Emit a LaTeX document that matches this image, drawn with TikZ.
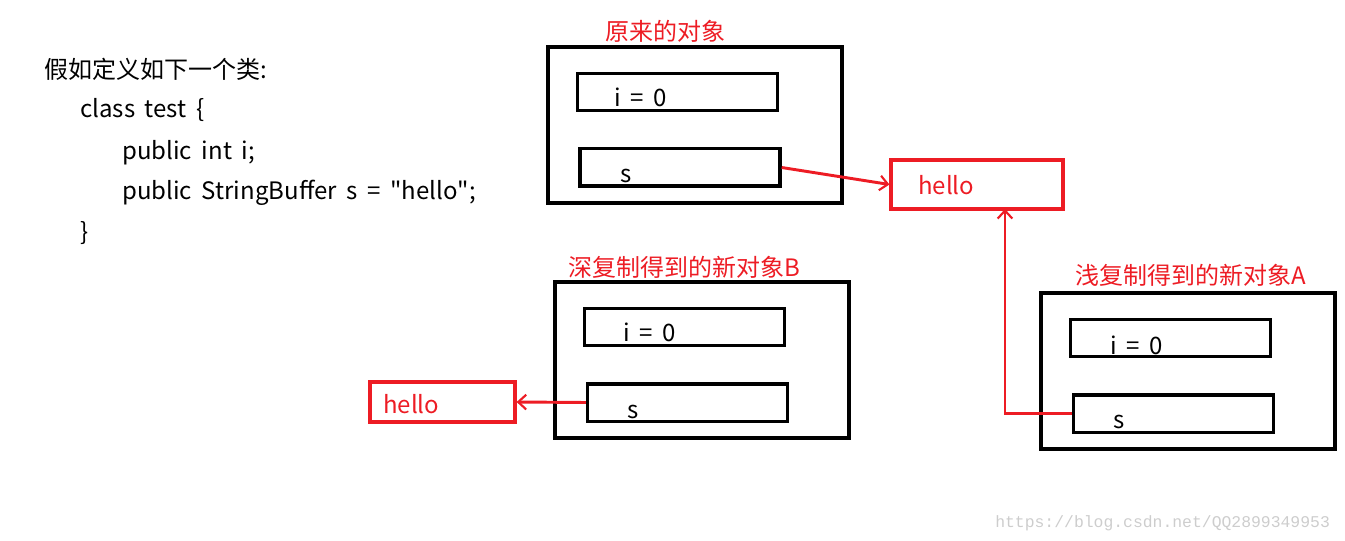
\documentclass[tikz,border=0pt]{standalone}
\usepackage{fontspec}
\setmainfont{Noto Sans CJK SC}[WordSpace=1.8]
\newfontfamily\wmfont{Liberation Mono}
\usetikzlibrary{arrows.meta}
\definecolor{hred}{RGB}{237,28,36}
\definecolor{wmgray}{RGB}{205,205,205}

\begin{document}
\begin{tikzpicture}[x=0.75pt, y=-0.75pt, every node/.style={font=\fontsize{18}{20}\selectfont, inner sep=0pt},
    objbox/.style={draw, line width=2.5pt, minimum width=220.5pt, minimum height=117pt},
    field/.style={draw, line width=2.5pt, minimum width=150pt, minimum height=28pt},
    strbox/.style={draw=hred, line width=2.4pt},
    txt/.style={anchor=base west},
    title/.style={anchor=base west, text=hred},
    ref/.style={draw=hred, line width=2.2pt, -{Straight Barb[length=6pt, width=11pt, line width=1.6pt]}}]
			\useasboundingbox (0,0) rectangle (1345,541);

			% code
			\node[txt] (c1) at (44, 79) {假如定义如下一个类:};
			\node[txt] (c2) at (80, 118) {class test \{};
			\node[txt] (c3) at (122, 160) {public int i;};
			\node[txt] (c4) at (122, 200) {public StringBuffer s = \textquotedbl hello\textquotedbl;};
			\node[txt] (c5) at (80, 241) {\}};

			% original object
			\node[objbox] (orig) at (695, 125) {};
			\node[field] (origI) at (677.5, 92) {};
			\node[field] (origS) at (680, 167.5) {};
			\node[title] (origT) at (605, 41) {原来的对象};
			\node[txt] (origIt) at (614, 107) {i = 0};
			\node[txt] (origSt) at (620, 183) {s};

			\node[strbox, minimum width=129pt, minimum height=36.75pt] (hello1) at (977, 184.5) {};
			\node[title] (hello1t) at (918, 195) {hello};

			\draw[ref] (origS.east) -- (hello1.west);

			% deep copy B
			\node[objbox] (copyB) at (702, 360) {};
			\node[field] (copyBI) at (684.5, 327) {};
			\node[field] (copyBS) at (687.5, 402.5) {};
			\node[title] (copyBT) at (568, 277) {深复制得到的新对象B};
			\node[txt] (copyBIt) at (623, 342) {i = 0};
			\node[txt] (copyBSt) at (627, 418) {s};

			\node[strbox, minimum width=108.75pt, minimum height=30pt] (hello2) at (442.5, 402) {};
			\node[title] (hello2t) at (383, 413) {hello};

			\draw[ref] (copyBS.west) -- (hello2.east);

			% shallow copy A
			\node[objbox] (copyA) at (1188, 371) {};
			\node[field] (copyAI) at (1170.5, 338) {};
			\node[field] (copyAS) at (1173.5, 413.5) {};
			\node[title] (copyAT) at (1075, 285) {浅复制得到的新对象A};
			\node[txt] (copyAIt) at (1110, 354) {i = 0};
			\node[txt] (copyASt) at (1113, 428) {s};

			\coordinate (hook) at (1005, 209);
			\draw[ref] (copyAS.west) -| (hook);

			% watermark
			\node[txt, text=wmgray, font=\wmfont\fontsize{12.3}{13}\selectfont] (wm) at (995, 527) {https://blog.csdn.net/QQ2899349953};
\end{tikzpicture}
\end{document}
